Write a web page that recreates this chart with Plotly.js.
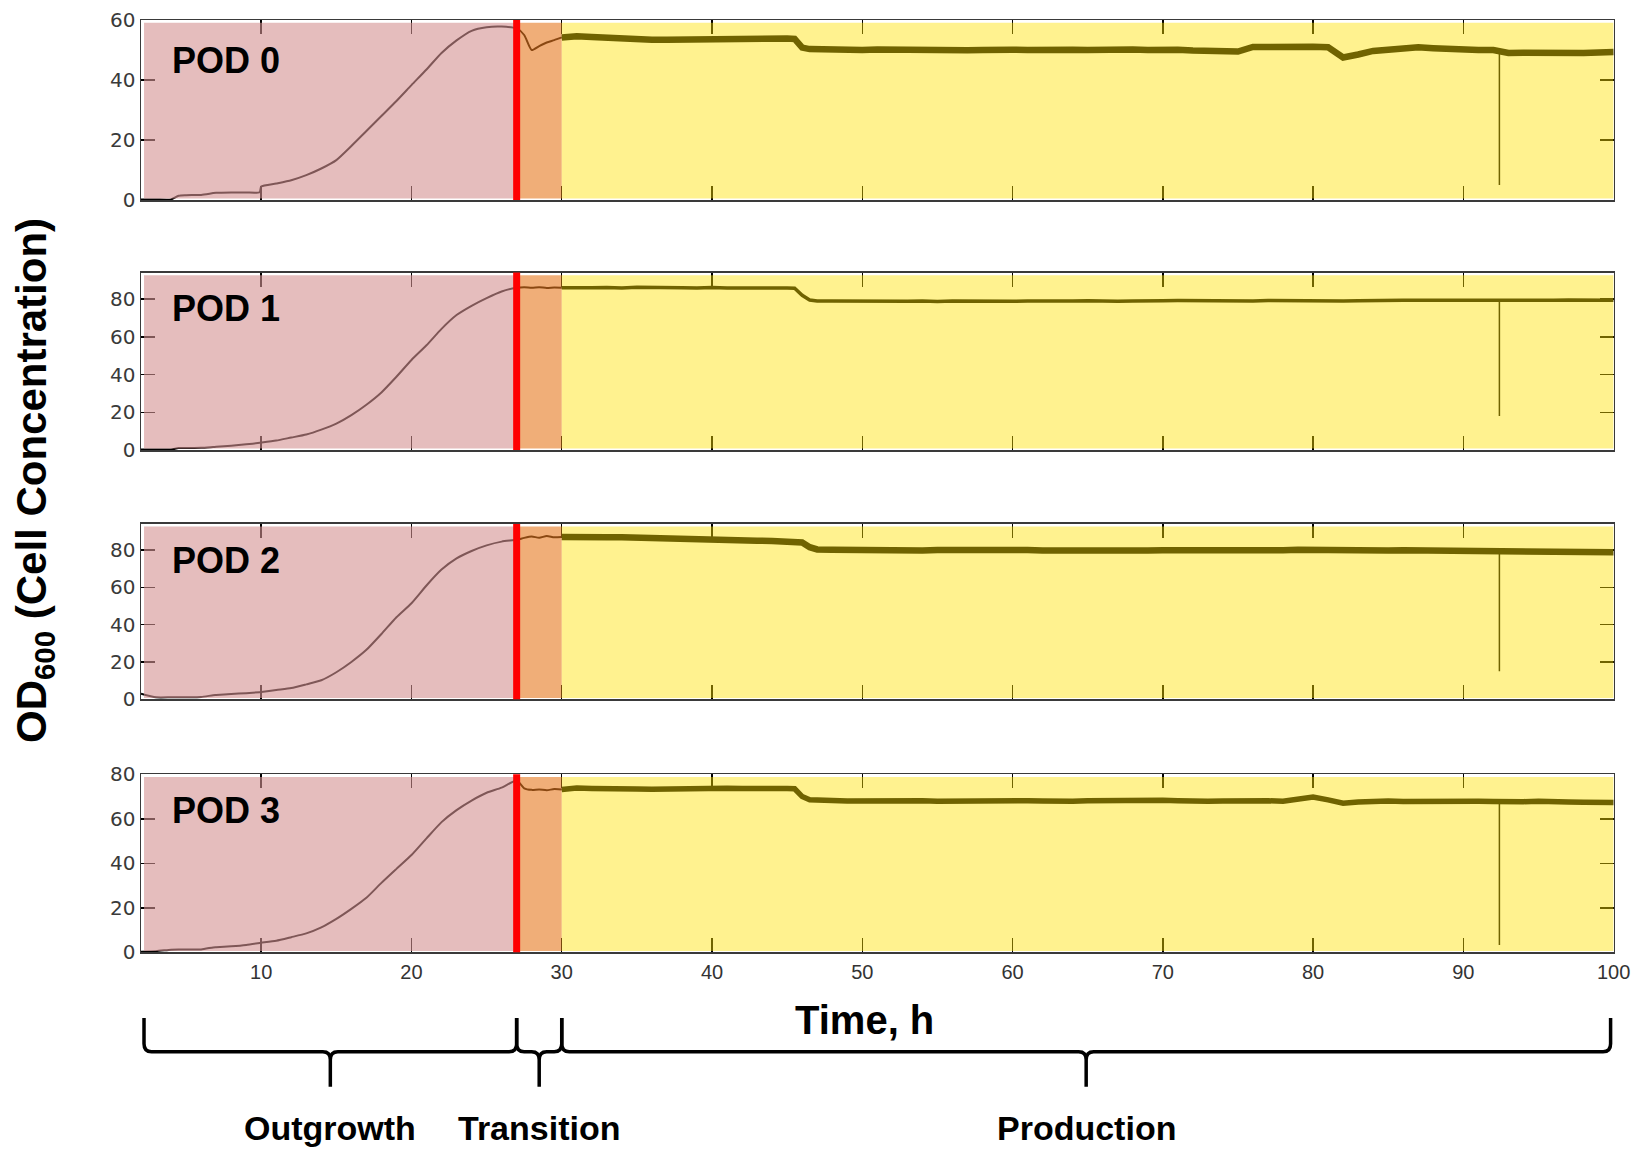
<!DOCTYPE html>
<html>
<head>
<meta charset="utf-8">
<script src="https://cdn.plot.ly/plotly-3.0.1.min.js"></script>
<style>
html,body{margin:0;padding:0;background:#fff;}
#chart{width:1646px;height:1153px;}
</style>
</head>
<body>
<div id="chart"></div>
<script>
// ---------------- DATA ----------------
const time = [2,3,4,4.5,5,6,6.8,7,8,9,9.9,10,11,12,13,14,15,16,17,18,19,20,21,22,23,24,25,26,27,
  27.5,28,28.5,29,29.5,30,
  31,32,33,34,35,36,37,38,39,40,41,42,43,44,45,
  45.5,46,46.5,47,
  48,49,50,51,52,53,54,55,56,57,58,59,60,
  61,62,63,64,65,66,67,68,69,70,
  71,72,73,74,75,76,77,78,79,80,
  81,82,83,84,85,86,87,88,89,90,
  91,92,93,94,95,96,97,98,99,100];

const pod0 = [0.2,0.2,0.2,1.4,1.6,1.7,2.3,2.4,2.5,2.5,2.6,4.5,5.5,6.6,8.3,10.5,13.3,18,23,28,33,38.3,43.5,49,53.2,56.4,57.6,57.8,57.2,
  55,50,51.3,52.5,53.3,54.2,
  54.6,54.3,54.0,53.8,53.5,53.4,53.4,53.5,53.3,53.4,53.6,53.7,53.9,53.8,53.8,
  53.7,50.8,50.3,50.2,
  50.3,50.1,50.0,50.2,50.1,49.9,50.0,50.2,50.1,49.9,50.0,50.2,50.1,
  50.0,50.2,50.3,50.1,50.0,50.2,50.4,50.2,50.0,50.3,
  50.1,49.8,49.7,49.6,49.5,51.0,51.1,51.0,51.2,51.1,
  50.9,47.5,48.5,49.7,50.1,50.4,50.9,50.6,50.3,50.1,
  50.0,50.0,49.0,49.1,49.0,49.2,49.1,49.0,49.2,49.3];

const pod1 = [0.3,0.3,0.3,1.0,1.0,1.2,1.6,1.7,2.3,3.0,3.8,3.9,5.0,6.6,8.2,10.8,14.0,18.5,24.0,30.5,38.8,47.7,55.5,64.2,71.5,76.4,80.5,84.0,86.0,
  86.3,86.0,86.2,85.9,86.1,86.0,
  86.2,86.0,86.1,85.9,86.2,86.0,85.8,86.0,85.9,86.1,85.8,85.9,86.0,85.8,85.9,
  85.7,82.0,79.5,79.0,
  78.9,78.8,78.9,78.7,78.9,78.8,79.0,78.7,78.9,78.8,78.7,78.9,78.8,
  79.0,78.9,78.8,78.9,79.1,78.9,78.8,79.0,78.9,79.1,
  79.2,79.1,79.0,79.3,79.1,79.0,79.2,79.1,79.0,79.1,
  79.2,79.0,79.1,79.3,79.2,79.4,79.3,79.5,79.4,79.3,
  79.5,79.4,79.3,79.2,79.4,79.3,79.5,79.4,79.3,79.4];

const pod2 = [3.0,1.1,1.1,1.1,1.1,1.2,2.2,2.3,2.8,3.3,3.8,3.9,5.0,6.0,8.0,10.2,14.5,20.0,26.5,35.0,44.0,51.5,61.0,69.5,75.5,79.5,82.5,84.5,85.5,
  86.5,87.2,86.6,87.5,86.8,87.0,
  87.2,87.0,86.8,86.9,86.6,86.5,86.3,86.2,86.0,85.8,85.5,85.3,85.0,84.8,84.6,
  84.5,84.0,81.5,80.3,
  80.2,80.0,80.1,79.9,80.2,80.0,79.8,80.0,80.1,79.9,80.0,79.8,79.9,
  80.0,79.8,79.7,79.9,79.8,79.9,80.0,79.8,79.7,79.9,
  79.8,79.9,80.0,79.8,79.9,80.0,79.8,79.9,80.1,79.9,
  79.8,80.0,79.9,79.8,79.7,79.9,79.8,79.6,79.5,79.4,
  79.3,79.2,79.0,79.1,79.0,78.9,79.0,78.8,78.9,78.8];

const pod3 = [0.3,0.5,1.2,1.3,1.3,1.3,2.2,2.3,2.7,3.3,4.2,4.3,5.2,6.8,8.5,11.2,15.0,19.5,24.5,31.2,37.5,43.7,51.2,58.5,63.9,68.2,71.7,74.0,77.2,
  73.7,73.0,73.2,72.8,73.4,73.2,
  73.8,73.6,73.7,73.5,73.4,73.3,73.5,73.6,73.4,73.5,73.7,73.6,73.8,73.7,73.6,
  73.5,70.0,68.6,68.3,
  68.2,68.0,68.1,68.0,67.9,68.0,68.1,67.9,68.0,68.2,68.1,67.9,68.0,
  68.1,68.0,67.8,67.9,68.1,68.2,68.0,67.8,68.0,68.3,
  68.1,67.7,67.9,68.0,68.2,68.4,68.1,67.9,68.6,69.8,
  68.5,67.0,67.6,67.9,68.0,67.8,67.9,68.1,67.8,67.7,
  67.9,67.8,67.6,67.7,67.9,68.0,67.6,67.4,67.5,67.3];

const podNames = ['POD 0','POD 1','POD 2','POD 3'];
const spikeTime = 92.4;                 // momentary drop seen in every pod
const spikeBefore = 92;                 // sample the drop starts from
const spikeLow = [5, 18, 15, 3.3];
const inductionTime = 27;               // red line
const phaseNames = ['Outgrowth','Transition','Production'];
const phaseStart = [2.2, 27, 30];
const phaseEnd = [27, 30, 99.8];
const yMax = [60, 94, 94, 80];
const yTicks = [[0,20,40,60],[0,20,40,60,80],[0,20,40,60,80],[0,20,40,60,80]];
const xTicks = [10,20,30,40,50,60,70,80,90,100];

// ---------------- STYLE / LAYOUT ----------------
const W = 1646, H = 1153;
const series = [pod0, pod1, pod2, pod3];
const bandWidth = [6.5, 3.5, 6.5, 5.5];
const xDom = [141/W, 1613.6/W];
const panelPx = [[200, 20], [450, 272.6], [699.3, 523.9], [952.3, 774.3]]; // bottom, top
const labelPx = [61, 308, 560, 810];
const phaseFill = ['rgba(212,145,145,0.6)', 'rgba(230,120,30,0.6)', 'rgba(255,226,0,0.44)'];
const FONT = 'Liberation Sans, Arial, sans-serif';

const traces = [];
const layout = {
  width: W, height: H,
  margin: {l:0, r:0, t:0, b:0, pad:0},
  paper_bgcolor: '#fff', plot_bgcolor: '#fff',
  showlegend: false,
  shapes: [], annotations: []
};

series.forEach((vals, i) => {
  const n = i + 1;
  const xs = n === 1 ? 'x' : 'x' + n;
  const ys = n === 1 ? 'y' : 'y' + n;
  const early = {x: [], y: []}, late = {x: [], y: []};
  time.forEach((t, k) => {
    if (t <= phaseStart[2]) { early.x.push(t); early.y.push(vals[k]); }
    if (t >= phaseStart[2]) { late.x.push(t); late.y.push(vals[k]); }
  });
  traces.push({x: early.x, y: early.y, xaxis: xs, yaxis: ys, mode: 'lines',
    line: {color: '#000', width: 2, shape: 'spline', smoothing: 0.6}, hoverinfo: 'skip'});
  traces.push({x: late.x, y: late.y, xaxis: xs, yaxis: ys, mode: 'lines',
    line: {color: '#000', width: bandWidth[i]}, hoverinfo: 'skip'});
  const kb = time.indexOf(spikeBefore);
  traces.push({x: [spikeTime, spikeTime], y: [vals[kb], spikeLow[i]], xaxis: xs, yaxis: ys,
    mode: 'lines', line: {color: '#000', width: 1.5}, hoverinfo: 'skip'});

  const axX = {
    domain: xDom, range: [2, 100], anchor: ys,
    tickvals: xTicks, ticktext: xTicks.map(String),
    ticks: 'inside', ticklen: 14, tickwidth: 1.5, tickcolor: '#000',
    showline: true, linecolor: '#3a3a3a', linewidth: 1.5, mirror: 'allticks',
    showgrid: false, zeroline: false, showticklabels: n === 4,
    tickfont: {family: FONT, size: 20, color: '#333'},
    ticklabelstandoff: 1, fixedrange: true
  };
  if (n > 1) axX.matches = 'x';
  const axY = {
    domain: [1 - panelPx[i][0]/H, 1 - panelPx[i][1]/H], range: [0, yMax[i]], anchor: xs,
    tickvals: yTicks[i], ticktext: yTicks[i].map(String),
    ticks: 'inside', ticklen: 14, tickwidth: 1.5, tickcolor: '#000',
    showline: true, linecolor: '#3a3a3a', linewidth: 1.5, mirror: 'allticks',
    showgrid: false, zeroline: false,
    tickfont: {family: 'DejaVu Sans, sans-serif', size: 20, color: '#3a3a3a'},
    fixedrange: true
  };
  layout[n === 1 ? 'xaxis' : 'xaxis' + n] = axX;
  layout[n === 1 ? 'yaxis' : 'yaxis' + n] = axY;

  // translucent phase patches laid over the trace (as in the original)
  phaseNames.forEach((p, j) => {
    layout.shapes.push({type: 'rect', layer: 'above', xref: xs, yref: ys + ' domain',
      x0: phaseStart[j], x1: j === 2 ? 100 : phaseEnd[j], y0: 0.008, y1: 0.985,
      fillcolor: phaseFill[j], line: {width: 0}});
  });
  layout.shapes.push({type: 'line', layer: 'above', xref: xs, yref: ys + ' domain',
    x0: inductionTime, x1: inductionTime, y0: 0, y1: 1, line: {color: '#ff0000', width: 7}});

  layout.annotations.push({text: podNames[i], xref: 'paper', yref: 'paper',
    x: 170/W, y: 1 - labelPx[i]/H, xanchor: 'left', yanchor: 'middle', showarrow: false,
    font: {family: FONT, size: 36, color: '#000', weight: 700}});
});

// braces below the time axis, one per phase
const yTop = 1 - 1018/H, yH = 1 - 1051.7/H, yR = 1 - 1043.7/H, yC = 1 - 1059.7/H, yBot = 1 - 1086.7/H;
const dx = 0.5;
phaseNames.forEach((p, j) => {
  const a = phaseStart[j], b = phaseEnd[j], m = (a + b) / 2;
  const path = `M ${a},${yTop} L ${a},${yR} Q ${a},${yH} ${a+dx},${yH} L ${m-dx},${yH} Q ${m},${yH} ${m},${yC} L ${m},${yBot} ` +
               `M ${m},${yC} Q ${m},${yH} ${m+dx},${yH} L ${b-dx},${yH} Q ${b},${yH} ${b},${yR} L ${b},${yTop}`;
  layout.shapes.push({type: 'path', xref: 'x4', yref: 'paper', path: path,
    line: {color: '#000', width: 3.5}});
  layout.annotations.push({text: p, xref: 'x4', yref: 'paper', x: m, y: 1 - 1128/H,
    xanchor: 'center', yanchor: 'middle', showarrow: false,
    font: {family: FONT, size: 34, color: '#000', weight: 700}});
});

layout.annotations.push({text: 'Time, h', xref: 'paper', yref: 'paper', x: 864/W, y: 1 - 1020/H,
  xanchor: 'center', yanchor: 'middle', showarrow: false,
  font: {family: FONT, size: 40, color: '#000', weight: 700}});
layout.annotations.push({text: 'OD<sub>600</sub> (Cell Concentration)', xref: 'paper', yref: 'paper',
  x: 35/W, y: 1 - 481/H, xanchor: 'center', yanchor: 'middle', textangle: -90, showarrow: false,
  font: {family: FONT, size: 42, color: '#000', weight: 700}});

Plotly.newPlot('chart', traces, layout, {displayModeBar: false, staticPlot: true});
</script>
</body>
</html>
